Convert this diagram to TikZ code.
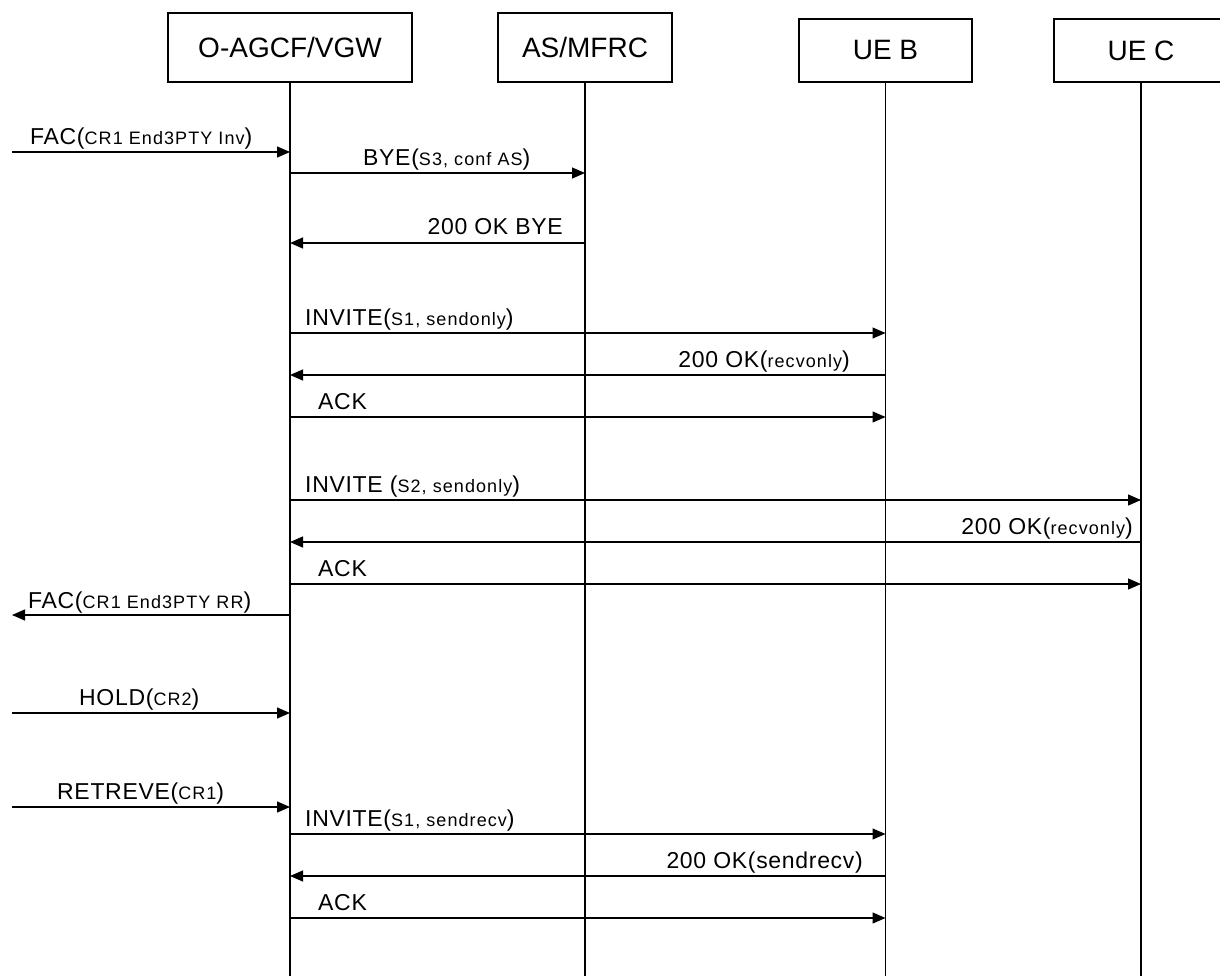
\documentclass[tikz,border=0pt]{standalone}
\usepackage{fontspec}
\setmainfont{Liberation Sans}
\newfontfamily\bigfam[LetterSpace=3]{Liberation Sans}
\newfontfamily\smallfam[LetterSpace=6]{Liberation Sans}
\usetikzlibrary{arrows.meta}
\newcommand{\smtxt}[1]{{\smallfam\fontsize{18}{21}\selectfont #1}}
\begin{document}
\begin{tikzpicture}[x=1pt,y=-1pt,
  entity/.style={draw, line width=1.2pt, inner sep=0pt, font=\fontsize{28}{32}\selectfont},
  life/.style={line width=1.2pt},
  msg/.style={line width=1.2pt, -{Triangle[length=13pt,width=11pt]}},
  lbl/.style={inner sep=0pt, font=\bigfam\fontsize{23}{27}\selectfont}]
\useasboundingbox (0,0) rectangle (1220,976);
% entities
\node[entity, minimum width=244pt, minimum height=69pt] (agcf) at (290,47.5) {O-AGCF/VGW};
\node[entity, minimum width=174pt, minimum height=69pt] (as) at (585,47.5) {AS/MFRC};
\node[entity, minimum width=173pt, minimum height=63pt] (ueb) at (885.5,50.5) {UE B};
\node[entity, minimum width=174pt, minimum height=63pt] (uec) at (1141,50.5) {UE C};
\coordinate (bot) at (0,976);
\draw[life] (agcf.south) -- (agcf.south |- bot);
\draw[life] (as.south) -- (as.south |- bot);
\draw[life] (ueb.south) -- (ueb.south |- bot);
\draw[life] (uec.south) -- (uec.south |- bot);
% messages
\coordinate (y1) at (12,152);
\draw[msg] (y1) -- (agcf.south |- y1);
\node[lbl, anchor=base west] (t1) at (30,145) {FAC(\smtxt{CR1 End3PTY Inv})};
\coordinate (y2) at (0,173);
\draw[msg] (agcf.south |- y2) -- (as.south |- y2);
\node[lbl, anchor=base west] (t2) at (363,166) {BYE(\smtxt{S3, conf AS})};
\coordinate (y3) at (0,243);
\draw[msg] (as.south |- y3) -- (agcf.south |- y3);
\node[lbl, anchor=base east] (t3) at (563,235) {200 OK BYE};
\coordinate (y4) at (0,333);
\draw[msg] (agcf.south |- y4) -- (ueb.south |- y4);
\node[lbl, anchor=base west] (t4) at (305,325) {INVITE(\smtxt{S1, sendonly})};
\coordinate (y5) at (0,375);
\draw[msg] (ueb.south |- y5) -- (agcf.south |- y5);
\node[lbl, anchor=base east] (t5) at (850,367) {200 OK(\smtxt{recvonly})};
\coordinate (y6) at (0,417);
\draw[msg] (agcf.south |- y6) -- (ueb.south |- y6);
\node[lbl, anchor=base west] (t6) at (318,409) {ACK};
\coordinate (y7) at (0,500);
\draw[msg] (agcf.south |- y7) -- (uec.south |- y7);
\node[lbl, anchor=base west] (t7) at (305,492) {INVITE (\smtxt{S2, sendonly})};
\coordinate (y8) at (0,542);
\draw[msg] (uec.south |- y8) -- (agcf.south |- y8);
\node[lbl, anchor=base east] (t8) at (1133,534) {200 OK(\smtxt{recvonly})};
\coordinate (y9) at (0,584);
\draw[msg] (agcf.south |- y9) -- (uec.south |- y9);
\node[lbl, anchor=base west] (t9) at (318,576) {ACK};
\coordinate (y10) at (12,615);
\draw[msg] (agcf.south |- y10) -- (y10);
\node[lbl, anchor=base west] (t10) at (28,608) {FAC(\smtxt{CR1 End3PTY RR})};
\coordinate (y11) at (12,713);
\draw[msg] (y11) -- (agcf.south |- y11);
\node[lbl, anchor=base west] (t11) at (79,705) {HOLD(\smtxt{CR2})};
\coordinate (y12) at (12,807);
\draw[msg] (y12) -- (agcf.south |- y12);
\node[lbl, anchor=base west] (t12) at (57,799) {RETREVE(\smtxt{CR1})};
\coordinate (y13) at (0,834);
\draw[msg] (agcf.south |- y13) -- (ueb.south |- y13);
\node[lbl, anchor=base west] (t13) at (305,826) {INVITE(\smtxt{S1, sendrecv})};
\coordinate (y14) at (0,876);
\draw[msg] (ueb.south |- y14) -- (agcf.south |- y14);
\node[lbl, anchor=base east] (t14) at (863,868) {200 OK(sendrecv)};
\coordinate (y15) at (0,918);
\draw[msg] (agcf.south |- y15) -- (ueb.south |- y15);
\node[lbl, anchor=base west] (t15) at (318,910) {ACK};
\end{tikzpicture}
\end{document}
